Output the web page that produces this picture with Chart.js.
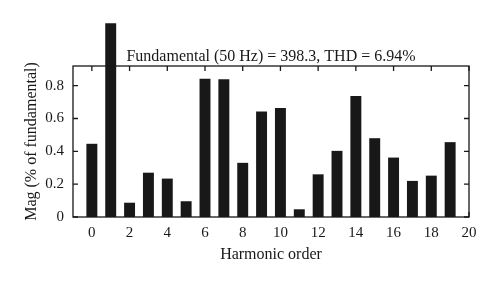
<!DOCTYPE html>
<html>
<head>
<meta charset="utf-8">
<script src="https://cdn.jsdelivr.net/npm/chart.js@4.4.0/dist/chart.umd.min.js"></script>
<style>
  html, body { margin: 0; padding: 0; background: #fff; }
  #wrap { width: 500px; height: 283px; }
</style>
</head>
<body>
<div id="wrap"><canvas id="chart" width="500" height="283"></canvas></div>
<script>
// harmonic spectrum values
const harmonicOrders = [0, 1, 2, 3, 4, 5, 6, 7, 8, 9, 10, 11, 12, 13, 14, 15, 16, 17, 18, 19];
const magnitudes = [0.446, 1.18, 0.087, 0.27, 0.234, 0.096, 0.843, 0.839, 0.33, 0.643,
                    0.664, 0.047, 0.26, 0.403, 0.737, 0.48, 0.362, 0.22, 0.252, 0.456];
const xTicks = [0, 2, 4, 6, 8, 10, 12, 14, 16, 18, 20];
const yTicks = [0, 0.2, 0.4, 0.6, 0.8];
const titleText = 'Fundamental (50 Hz) = 398.3, THD = 6.94%';

const ink = '#181818';
const serif = "'Liberation Serif', 'DejaVu Serif', serif";

// frame + inward ticks on all four sides, and the title above the plot
const framePlugin = {
    id: 'frame',
    afterDatasetsDraw(chart) {
        const { ctx, chartArea: a, scales } = chart;
        const tl = 5;
        ctx.save();
        ctx.strokeStyle = ink;
        ctx.lineWidth = 1.3;
        ctx.strokeRect(a.left, a.top, a.right - a.left, a.bottom - a.top);
        ctx.beginPath();
        xTicks.forEach(v => {
            const px = scales.x.getPixelForValue(v);
            ctx.moveTo(px, a.top); ctx.lineTo(px, a.top + tl);
            ctx.moveTo(px, a.bottom); ctx.lineTo(px, a.bottom - tl);
        });
        yTicks.forEach(v => {
            const py = scales.y.getPixelForValue(v);
            ctx.moveTo(a.left, py); ctx.lineTo(a.left + tl, py);
            ctx.moveTo(a.right, py); ctx.lineTo(a.right - tl, py);
        });
        ctx.stroke();

        ctx.fillStyle = ink;
        ctx.font = '16px ' + serif;
        ctx.textAlign = 'center';
        ctx.textBaseline = 'alphabetic';
        ctx.fillText(titleText, (a.left + a.right) / 2, a.top - 5);
        ctx.restore();
    }
};

new Chart(document.getElementById('chart'), {
    type: 'bar',
    data: {
        datasets: [{
            data: harmonicOrders.map((h, i) => ({ x: h, y: magnitudes[i] })),
            backgroundColor: ink,
            borderWidth: 0,
            barPercentage: 0.58,
            categoryPercentage: 1,
            clip: false
        }]
    },
    options: {
        responsive: false,
        animation: false,
        layout: { padding: { left: 0, right: 31, top: 66, bottom: 0 } },
        plugins: { legend: { display: false }, tooltip: { enabled: false } },
        scales: {
            x: {
                type: 'linear',
                min: -1,
                max: 20,
                offset: false,
                grid: { display: false, drawTicks: false },
                border: { display: false },
                afterBuildTicks: s => { s.ticks = xTicks.map(v => ({ value: v })); },
                afterFit: s => { s.height = 66; },
                ticks: { color: ink, padding: 7, font: { family: serif, size: 15 } },
                title: {
                    display: true, text: 'Harmonic order', color: ink,
                    font: { family: serif, size: 16 }, padding: { top: 0, bottom: 19 }
                }
            },
            y: {
                min: 0,
                max: 0.92,
                grid: { display: false, drawTicks: false },
                border: { display: false },
                afterBuildTicks: s => { s.ticks = yTicks.map(v => ({ value: v })); },
                afterFit: s => { s.width = 73; },
                ticks: {
                    color: ink, padding: 9, font: { family: serif, size: 15 },
                    callback: v => v === 0 ? '0' : v.toFixed(1)
                },
                title: {
                    display: true, text: 'Mag (% of fundamental)', color: ink,
                    font: { family: serif, size: 16 }, padding: { top: 22, bottom: 0 }
                }
            }
        }
    },
    plugins: [framePlugin]
});
</script>
</body>
</html>
